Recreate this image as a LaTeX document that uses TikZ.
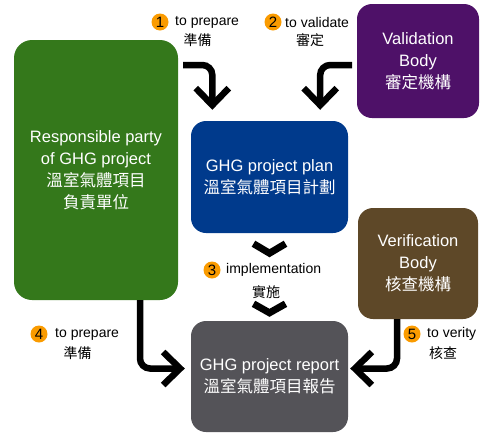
\documentclass[tikz,border=0pt]{standalone}
\usepackage{fontspec}
\setmainfont{Liberation Sans}
\newfontfamily\cjk{Noto Sans CJK TC}
\newcommand{\zh}[1]{{\cjk #1}}
\usetikzlibrary{arrows.meta}
\definecolor{partygreen}{RGB}{52,120,27}
\definecolor{planblue}{RGB}{0,58,140}
\definecolor{bodypurple}{RGB}{78,17,104}
\definecolor{bodybrown}{RGB}{94,72,40}
\definecolor{reportgray}{RGB}{84,83,88}
\definecolor{badgeorange}{RGB}{250,155,0}

\begin{document}
\begin{tikzpicture}[
  x=1pt, y=-1pt,
  box/.style={rectangle, rounded corners=15pt, text=white, align=center, inner sep=0pt, font=\fontsize{16.5}{22}\selectfont},
  badge/.style={circle, fill=badgeorange, inner sep=0pt, minimum size=17pt, font=\fontsize{15}{15}\selectfont},
  note/.style={inner sep=0pt, font=\fontsize{14}{18}\selectfont},
  flow/.style={line width=6.5pt, rounded corners=10pt, -{Straight Barb[length=17pt,width=33pt]}},
  chev/.style={line width=7pt}
]
\useasboundingbox (0,0) rectangle (500,437);

\node[box, fill=partygreen, rounded corners=18pt, minimum width=164pt, minimum height=260pt] (party) at (96,170) {Responsible party\\of GHG project\\\zh{溫室氣體項目}\\\zh{負責單位}};
\node[box, fill=planblue, minimum width=157pt, minimum height=112pt] (plan) at (269.5,177) {GHG project plan\\\zh{溫室氣體項目計劃}};
\node[box, fill=reportgray, minimum width=157pt, minimum height=111pt] (report) at (269.5,376.5) {GHG project report\\\zh{溫室氣體項目報告}};
\node[box, fill=bodypurple, minimum width=122pt, minimum height=114pt] (valid) at (418,61) {Validation\\Body\\\zh{審定機構}};
\node[box, fill=bodybrown, minimum width=120pt, minimum height=111pt] (verif) at (418,263.5) {Verification\\Body\\\zh{核查機構}};

\coordinate (s1) at (183,65);
\coordinate (s2) at (352,65);

\draw[flow] (s1) -| ([xshift=21.5pt,yshift=11pt]plan.north west);
\draw[flow] (s2) -| ([xshift=-28pt,yshift=11pt]plan.north east);
\draw[flow] ([xshift=44pt]party.south) |- ([xshift=-6pt,yshift=8pt]report.west);
\draw[flow] ([xshift=-21pt]verif.south) |- ([xshift=2pt,yshift=8pt]report.east);

% step 3 marks
\draw[chev] ([xshift=-16pt,yshift=-10.5pt]plan.south) -- ([yshift=-20pt]plan.south) -- ([xshift=16pt,yshift=-10.5pt]plan.south);
\draw[chev] ([xshift=-16pt,yshift=17pt]report.north) -- ([yshift=8pt]report.north) -- ([xshift=16pt,yshift=17pt]report.north);

\node[badge] (n1) at (160,22) {1};
\node[note, anchor=west] (t1) at (175,22) {to prepare};
\node[note] (t1zh) at (197.5,40) {\zh{準備}};

\node[badge] (n2) at (273,22) {2};
\node[note, anchor=west] (t2) at (285,22) {to validate};
\node[note] (t2zh) at (310,40) {\zh{審定}};

\node[badge] (n3) at (212,270) {3};
\node[note, anchor=west] (t3) at (226,270) {implementation};
\node[note] (t3zh) at (266,292) {\zh{實施}};

\node[badge] (n4) at (39,334) {4};
\node[note, anchor=west] (t4) at (55,334) {to prepare};
\node[note] (t4zh) at (77.5,353) {\zh{準備}};

\node[badge] (n5) at (412,334) {5};
\node[note, anchor=west] (t5) at (427,334) {to verity};
\node[note] (t5zh) at (443,353) {\zh{核查}};
\end{tikzpicture}
\end{document}
